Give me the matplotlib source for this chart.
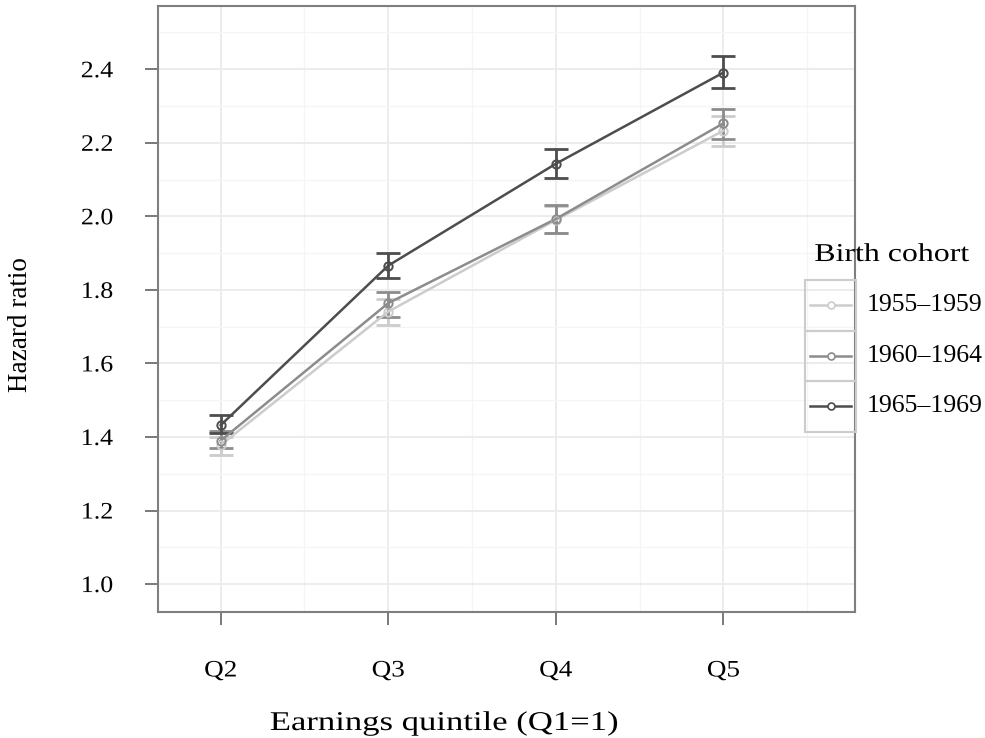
import matplotlib
matplotlib.use("Agg")
import matplotlib.pyplot as plt
from matplotlib.patches import Rectangle
from matplotlib.lines import Line2D
from matplotlib.patheffects import AbstractPathEffect
from matplotlib.transforms import Affine2D
import numpy as np

plt.rcParams['font.family'] = ['Liberation Serif', 'DejaVu Serif']

quintiles = ["Q2", "Q3", "Q4", "Q5"]
cohorts = ["1955\u20131959", "1960\u20131964", "1965\u20131969"]
hr_1955 = [1.378, 1.741, 1.990, 2.233]
lo_1955 = [1.350, 1.705, 1.955, 2.190]
hi_1955 = [1.400, 1.775, 2.027, 2.273]
hr_1960 = [1.390, 1.764, 1.993, 2.253]
lo_1960 = [1.370, 1.727, 1.956, 2.211]
hi_1960 = [1.415, 1.794, 2.031, 2.292]
hr_1965 = [1.432, 1.866, 2.143, 2.391]
lo_1965 = [1.410, 1.832, 2.104, 2.348]
hi_1965 = [1.460, 1.899, 2.182, 2.436]
colors = ["#CCCCCC", "#8C8C8C", "#4D4D4D"]

series = [(hr_1955, lo_1955, hi_1955), (hr_1960, lo_1960, hi_1960), (hr_1965, lo_1965, hi_1965)]


class Stretch(AbstractPathEffect):
    """Horizontally widen rendered glyphs (text stays a Text artist)."""
    def __init__(self, sx=1.0, anchor='center'):
        super().__init__()
        self.sx = sx
        self.anchor = anchor

    def draw_path(self, renderer, gc, tpath, affine, rgbFace=None):
        ext = tpath.get_extents(affine)
        if self.anchor == 'left':
            cx = ext.x0
        elif self.anchor == 'right':
            cx = ext.x1
        else:
            cx = 0.5 * (ext.x0 + ext.x1)
        aff = affine + Affine2D().translate(-cx, 0).scale(self.sx, 1).translate(cx, 0)
        renderer.draw_path(gc, tpath, aff, rgbFace)


W, H = 985, 738
fig = plt.figure(figsize=(W/100, H/100), dpi=100)
ax = fig.add_axes([158/W, (H-612)/H, (855-158)/W, (612-6)/H])

x = np.arange(2, 2 + len(quintiles))
for (hr, lo, hi), c in zip(series, colors):
    hr = np.array(hr); lo = np.array(lo); hi = np.array(hi)
    ax.errorbar(x, hr, yerr=[hr - lo, hi - hr], fmt='none', ecolor=c,
                elinewidth=2.0, capsize=8.5, capthick=2.0, zorder=3)
    ax.plot(x, hr, '-', color=c, lw=1.8, zorder=4)
    ax.plot(x, hr, 'o', mfc='none', mec=c, mew=1.4, ms=6, zorder=5)

ax.set_xlim(1.626, 5.785)
ax.set_ylim(0.924, 2.572)
ax.set_xticks(x)
ax.set_xticklabels(quintiles)
yt = [1.0, 1.2, 1.4, 1.6, 1.8, 2.0, 2.2, 2.4]
ax.set_yticks(yt)
ax.set_yticklabels([f"{v:.1f}" for v in yt])
ax.set_xticks(x + 0.5, minor=True)
ax.set_yticks(np.arange(1.1, 2.6, 0.2), minor=True)
ax.grid(True, which='major', color='#EBEBEB', lw=1.3, zorder=0)
ax.grid(True, which='minor', color='#F5F5F5', lw=1.0, zorder=0)
ax.set_axisbelow(True)
ax.tick_params(which='major', length=9.4, width=1.1, color='#555555',
               labelsize=17, labelcolor='black')
ax.tick_params(axis='y', pad=23)
ax.tick_params(axis='x', pad=25.5)
ax.tick_params(which='minor', length=0)
for lab in ax.get_yticklabels():
    lab.set_path_effects([Stretch(1.1, 'right')])
for lab in ax.get_xticklabels():
    lab.set_path_effects([Stretch(1.15, 'center')])
for s in ax.spines.values():
    s.set_color('#7F7F7F')
    s.set_linewidth(1.5)

fig.text(270/W, 1 - 730/H, "Earnings quintile (Q1=1)", ha='left', va='baseline',
         fontsize=19.5, path_effects=[Stretch(1.28, 'left')])
fig.text(21/W, 1 - 325/H, "Hazard ratio", ha='center', va='center', rotation=90,
         fontsize=19.5)

# legend
lax = fig.add_axes([0, 0, 1, 1], facecolor='none')
lax.set_xlim(0, W)
lax.set_ylim(H, 0)
lax.axis('off')
lax.text(892, 255, "Birth cohort", ha='center', va='center', fontsize=18.5,
         path_effects=[Stretch(1.24, 'center')])
key_top = 280
kh = 50.5
for i, (lab, c) in enumerate(zip(cohorts, colors)):
    y0 = key_top + i * kh
    lax.add_patch(Rectangle((805, y0), 51, kh, fill=False, ec='#CCCCCC', lw=1.5))
    yc = y0 + kh / 2
    lax.add_line(Line2D([810, 851], [yc, yc], color=c, lw=1.8))
    lax.plot([830.5], [yc], 'o', mfc='white', mec=c, mew=1.2, ms=5)
    lax.text(867, yc, lab, ha='left', va='center', fontsize=18.5)

fig.savefig("out.png", dpi=100)
